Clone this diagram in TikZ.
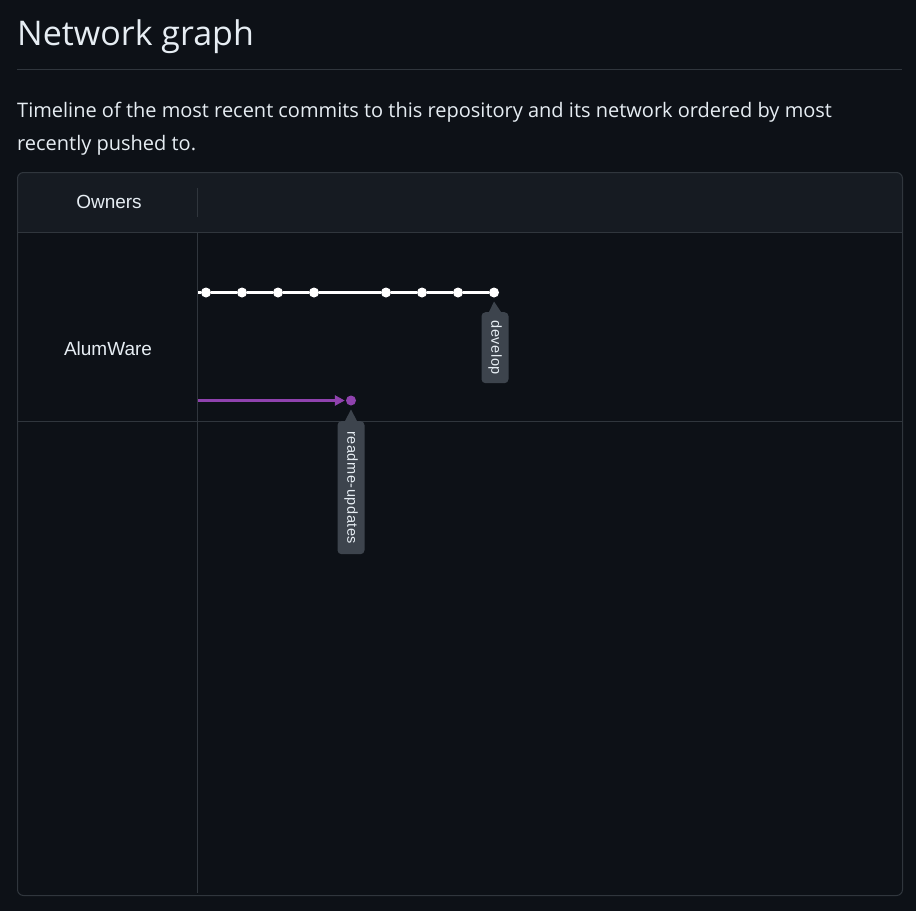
\documentclass[tikz,border=0pt]{standalone}
\usepackage{fontspec}
\setmainfont{Open Sans}
\newfontfamily\arialfont{Liberation Sans}
\newfontfamily\tagfont[LetterSpace=4]{Liberation Sans}
\usetikzlibrary{positioning,arrows.meta,shapes}

\definecolor{pagebg}{HTML}{0D1117}
\definecolor{headbg}{HTML}{161B22}
\definecolor{rule}{HTML}{30363D}
\definecolor{fg}{HTML}{E6EDF3}
\definecolor{taggray}{HTML}{3D444D}
\definecolor{branch}{RGB}{143,66,174}

\begin{document}
\begin{tikzpicture}[x=1pt,y=-1pt,node distance=36pt,on grid]
\tikzstyle{commit}=[circle,fill=white,inner sep=0pt,minimum size=10pt]
\tikzstyle{head}=[circle,fill=branch,inner sep=0pt,minimum size=10pt]
\tikzstyle{tag}=[fill=taggray,rounded corners=4pt,rotate=-90,anchor=west,minimum height=27pt,inner sep=0pt,text=fg,font=\tagfont\fontsize{14.5}{14.5}\selectfont]
\tikzstyle{owner}=[text=fg,font=\arialfont\fontsize{19}{19}\selectfont]
\tikzstyle{line}=[draw=rule,line width=1pt]

\fill[pagebg] (0,0) rectangle (916,911);
\useasboundingbox (0,0) rectangle (916,911);

% heading
\node [anchor=base west,inner sep=0pt,text=fg,font=\fontsize{34}{34}\selectfont] (title) at (17,45) {Network graph};
\draw[line] (17,69) -- (902,69);
\node [anchor=base west,inner sep=0pt,text=fg,font=\fontsize{20}{33}\selectfont,align=left] (intro) at (17,150)
  {Timeline of the most recent commits to this repository and its network ordered by most\\recently pushed to.};

% table
\begin{scope}
\clip (0,0) rectangle (916,232);
\fill[headbg,rounded corners=6pt] (17.5,172.5) rectangle (902.5,260);
\end{scope}
\draw[line,rounded corners=6pt] (17.5,172.5) rectangle (902.5,895.5);
\draw[line] (17.5,232) -- (902.5,232);
\draw[line] (17.5,421) -- (902.5,421);
\draw[line] (197.5,188) -- (197.5,217);
\draw[line] (197.5,232) -- (197.5,893);

\node [owner] (owners) at (109,202) {Owners};
\node [owner] (alum) at (108,349) {AlumWare};

% develop
\coordinate (dstart) at (198,292.5);
\node [commit] (c1) at (206,292.5) {};
\node [commit,right=of c1] (c2) {};
\node [commit,right=of c2] (c3) {};
\node [commit,right=of c3] (c4) {};
\node [commit,right=72pt of c4] (c5) {};
\node [commit,right=of c5] (c6) {};
\node [commit,right=of c6] (c7) {};
\node [commit,right=of c7] (c8) {};
\path[draw=white,line width=2.5pt]
(dstart) edge (c1)
(c1) edge (c2)
(c2) edge (c3)
(c3) edge (c4)
(c4) edge (c5)
(c5) edge (c6)
(c6) edge (c7)
(c7) edge (c8);

% readme-updates
\coordinate (rstart) at (198,400.5);
\node [head] (r1) at (351,400.5) {};
\draw[branch,line width=2.5pt,-{Triangle[length=10pt,width=10pt]},shorten >=1pt] (rstart) -- (r1);

% labels
\node [tag,minimum width=71pt] (devtag) at (495,312) {develop};
\fill[taggray] ([xshift=-6pt]devtag.west) -- ([yshift=-9pt]c8.center) -- ([xshift=6pt]devtag.west) -- cycle;
\node [tag,minimum width=133pt] (readtag) at (351,421) {readme-updates};
\fill[taggray] ([xshift=-6pt]readtag.west) -- ([yshift=-9pt]r1.center) -- ([xshift=6pt]readtag.west) -- cycle;
\end{tikzpicture}
\end{document}
